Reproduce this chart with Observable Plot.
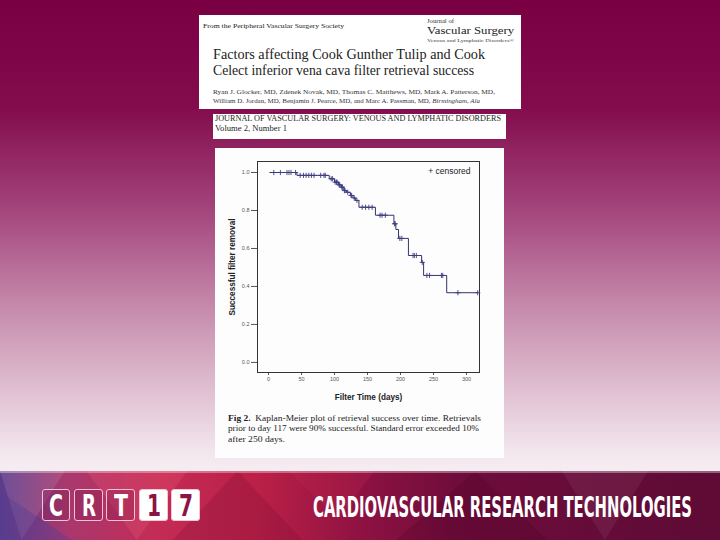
<!DOCTYPE html>
<html><head><meta charset="utf-8">
<script src="https://cdn.jsdelivr.net/npm/d3@7"></script>
<script src="https://cdn.jsdelivr.net/npm/@observablehq/plot@0.6"></script>
<style>
html,body{margin:0;padding:0}
body{width:720px;height:540px;overflow:hidden;position:relative;
background:linear-gradient(180deg,#790043 0%,#830c4d 20%,#a2427a 38%,#c283a7 55%,#e0bfd1 72%,#f3e7ee 84%,#f6eef3 88%);}
.box{position:absolute;background:#fff}
.t{position:absolute;white-space:nowrap;line-height:1;transform-origin:0 0;color:#222}
#chart{position:absolute;left:215px;top:148px}
#banner{position:absolute;left:0;top:471px;width:720px;height:69px;overflow:hidden;
background:linear-gradient(90deg,#5b3c8c 0%,#a8386e 9%,#c42c55 22%,#bb2046 36%,#8e1242 50%,#6e0c3b 64%,#5e0b36 100%);}
.tri{position:absolute;left:0;top:0;width:720px;height:69px}
.lb{position:absolute;top:489px;height:32px;border:1.5px solid #f3c3d6;border-radius:3px;box-sizing:border-box;overflow:hidden}
</style></head><body>
<div class="box" style="left:199px;top:15px;width:322px;height:94px"></div>
<div class="box" style="left:213px;top:114px;width:293px;height:25px"></div>
<div class="box" style="left:215px;top:148px;width:289px;height:310px;background:#fdfdfd"></div>
<div id="chart"></div>
<div id="banner">
  <div class="tri" style="background:rgba(255,255,255,0.10);clip-path:polygon(0 0,9% 0,3% 100%)"></div>
  <div class="tri" style="background:rgba(80,60,150,0.35);clip-path:polygon(0 30%,10% 100%,0 100%)"></div>
  <div class="tri" style="background:rgba(240,90,120,0.25);clip-path:polygon(12% 0,26% 0,19% 100%)"></div>
  <div class="tri" style="background:rgba(120,10,50,0.25);clip-path:polygon(24% 100%,33% 0,42% 100%)"></div>
  <div class="tri" style="background:rgba(200,40,80,0.25);clip-path:polygon(40% 0,52% 0,47% 70%)"></div>
  <div class="tri" style="background:rgba(60,0,30,0.18);clip-path:polygon(55% 100%,66% 0,76% 100%)"></div>
  <div class="tri" style="background:rgba(255,255,255,0.06);clip-path:polygon(78% 0,90% 0,84% 100%)"></div>
  <div style="position:absolute;left:0;top:0;width:720px;height:2px;background:rgba(255,255,255,0.35)"></div>
</div>
<script>
// ---- data ----
const days     = [2, 43, 92, 100, 106, 110, 114, 118, 124, 128, 132, 137, 162, 190, 193, 197, 212, 232, 235, 270, 317];
const survival = [1.0, 0.985, 0.967, 0.949, 0.935, 0.923, 0.905, 0.896, 0.879, 0.866, 0.853, 0.817, 0.775, 0.73, 0.70, 0.653, 0.563, 0.527, 0.458, 0.367, 0.367];
const censorDays = [8, 18, 28, 31, 34, 41, 48, 53, 57, 61, 65, 69, 79, 84, 86, 95, 97, 101, 103, 104, 107, 108, 111, 112, 115, 116, 120, 125, 126, 130, 134, 142, 147, 152, 157, 169, 172, 177, 191, 192, 199, 202, 219, 221, 224, 233, 240, 244, 262, 264, 287, 317];
const censorSurv = [1, 1, 1, 1, 1, 1, 0.985, 0.985, 0.985, 0.985, 0.985, 0.985, 0.985, 0.985, 0.985, 0.967, 0.967, 0.949, 0.949, 0.949, 0.935, 0.935, 0.923, 0.923, 0.905, 0.905, 0.896, 0.879, 0.879, 0.866, 0.853, 0.817, 0.817, 0.817, 0.817, 0.775, 0.775, 0.775, 0.73, 0.73, 0.653, 0.653, 0.563, 0.563, 0.563, 0.527, 0.458, 0.458, 0.458, 0.458, 0.367, 0.367];
const xTicks = [0, 50, 100, 150, 200, 250, 300];
const yTicks = [0, 0.2, 0.4, 0.6, 0.8, 1.0];
const xLabel = "Filter Time (days)";
const yLabel = "Successful filter removal";
const legendLabel = "+ censored";

const km = days.map((d, i) => ({day: d, surv: survival[i]}));
const cens = censorDays.map((d, i) => ({day: d, surv: censorSurv[i]}));

const plot = Plot.plot({
  width: 289, height: 255,
  marginLeft: 42, marginRight: 25, marginTop: 13, marginBottom: 31,
  style: {background: "transparent", fontFamily: "'Liberation Sans', Arial, sans-serif", fontSize: "5.5px", color: "#555", overflow: "visible"},
  x: {domain: [-16.7, 319.7], ticks: xTicks, tickSize: 3, tickPadding: 2, label: null},
  y: {domain: [-0.053, 1.058], ticks: yTicks, tickFormat: d3.format(".1f"), tickSize: 6, tickPadding: 2, label: null},
  marks: [
    Plot.frame({stroke: "#333"}),
    Plot.line(km, {x: "day", y: "surv", curve: "step-after", stroke: "#34346e", strokeWidth: 1}),
    Plot.dot(cens, {x: "day", y: "surv", symbol: "plus", r: 1.8, stroke: "#3d3d80", strokeWidth: 0.9}),
    Plot.text([legendLabel], {text: d => d, frameAnchor: "top-right", textAnchor: "end", lineAnchor: "top", dx: -9, dy: 6, fontSize: 8.5, fill: "#222"}),
    Plot.text([xLabel], {text: d => d, frameAnchor: "bottom", textAnchor: "middle", lineAnchor: "middle", dy: 25, fontSize: 8.2, fontWeight: "bold", fill: "#222"}),
    Plot.text([yLabel], {text: d => d, frameAnchor: "left", textAnchor: "middle", lineAnchor: "middle", rotate: -90, dx: -25, fontSize: 8.2, fontWeight: "bold", fill: "#222"})
  ]
});
document.getElementById("chart").appendChild(plot);

// ---- slide texts ----
function put(text, x, baseline, size, width, opts = {}) {
  const el = document.createElement("div");
  el.className = "t";
  if (opts.html) el.innerHTML = text; else el.textContent = text;
  el.style.fontSize = size + "px";
  el.style.fontFamily = opts.family || "'Liberation Serif', 'Times New Roman', serif";
  if (opts.weight) el.style.fontWeight = opts.weight;
  if (opts.style) el.style.fontStyle = opts.style;
  if (opts.color) el.style.color = opts.color;
  el.style.left = x + "px";
  const sy = opts.sy || 1;
  el.style.top = (baseline - size * 0.84 * sy) + "px";
  document.body.appendChild(el);
  const w = el.getBoundingClientRect().width;
  el.style.transform = `scale(${width / w}, ${sy})`;
  return el;
}
put("From the Peripheral Vascular Surgery Society", 203, 29, 7, 141);
put("Journal of", 427, 23.5, 6, 27, {color: "#333"});
put("Vascular Surgery", 427, 34.5, 11, 87);
put("Venous and Lymphatic Disorders\u00AE", 427, 43, 4.5, 87, {color: "#444"});
put("Factors affecting Cook Gunther Tulip and Cook", 213, 60, 15, 272);
put("Celect inferior vena cava filter retrieval success", 213, 76, 15, 261);
put("Ryan J. Glocker, MD, Zdenek Novak, MD, Thomas C. Matthews, MD, Mark A. Patterson, MD,", 213, 94, 6.5, 282, {color: "#333"});
put("William D. Jordan, MD, Benjamin J. Pearce, MD, and Marc A. Passman, MD, <i>Birmingham, Ala</i>", 213, 103, 6.5, 267, {color: "#333", html: true});
put("JOURNAL OF VASCULAR SURGERY: VENOUS AND LYMPHATIC DISORDERS", 215, 121.5, 7.5, 286);
put("Volume 2, Number 1", 215, 131, 7.5, 72);
put("<b>Fig 2.</b>&nbsp; Kaplan-Meier plot of retrieval success over time. Retrievals", 228, 421, 8.5, 253, {html: true});
put("prior to day 117 were 90% successful. Standard error exceeded 10%", 228, 431.5, 8.5, 251);
put("after 250 days.", 228, 442, 8.5, 57);

// ---- banner logo ----
const logo = [["C", 42, 70, false], ["R", 74, 103, false], ["T", 106, 135, false], ["1", 139, 168, true], ["7", 171, 200, true]];
logo.forEach(([ch, x0, x1, filled]) => {
  const b = document.createElement("div");
  b.className = "lb";
  b.style.left = x0 + "px";
  b.style.width = (x1 - x0) + "px";
  b.style.background = filled ? "#ffffff" : "rgba(120,20,70,0.25)";
  document.body.appendChild(b);
  put(ch, x0 + (x1 - x0) / 2 - 7, 516, 24, 14, {family: "'Liberation Sans Narrow','DejaVu Sans Condensed',sans-serif", weight: "bold", color: filled ? "#8a1444" : "#ffffff", sy: 1.25});
});
put("CARDIOVASCULAR RESEARCH TECHNOLOGIES", 313, 516, 26, 379, {family: "'Liberation Sans Narrow','DejaVu Sans Condensed',sans-serif", weight: "bold", color: "#ffffff", sy: 1.12});
</script>
</body></html>
